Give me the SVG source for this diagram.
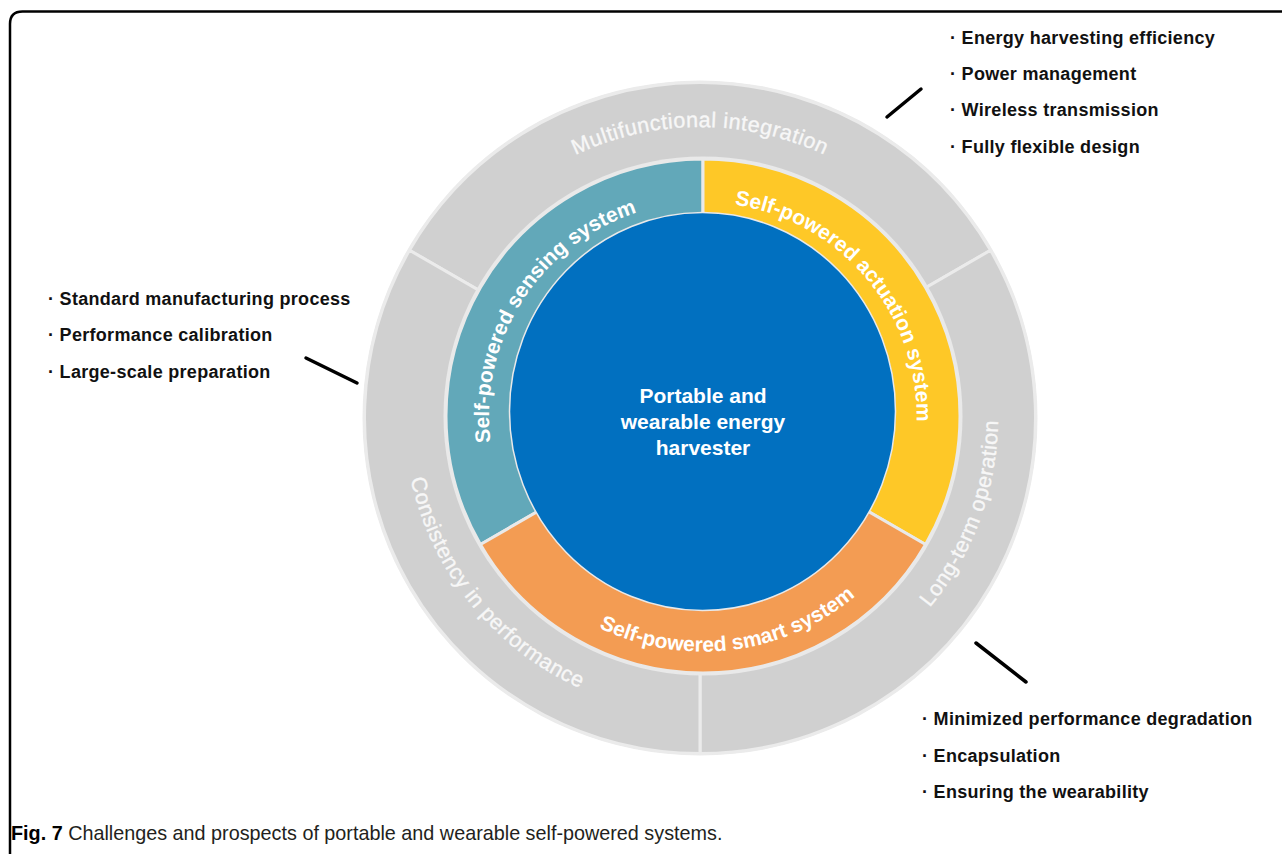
<svg xmlns="http://www.w3.org/2000/svg" width="1282" height="854" viewBox="0 0 1282 854">
<style>
.outerseg{fill:#d0d0d0;stroke:#ebebeb;stroke-width:3;stroke-linejoin:round}
.midseg{stroke:#e9e9e9;stroke-width:3;stroke-linejoin:round}
.ringlbl{font-family:"Liberation Sans",Arial,sans-serif;font-size:21.5px;letter-spacing:0.5px;fill:#f7f7f7;stroke:#f7f7f7;stroke-width:0.35px}
.midlbl{font-family:"Liberation Sans",Arial,sans-serif;font-size:21px;font-weight:bold;fill:#ffffff}
.center{font-family:"Liberation Sans",Arial,sans-serif;font-size:21px;font-weight:bold;fill:#ffffff;text-anchor:middle}
.item{font-family:"Liberation Sans",Arial,sans-serif;font-size:18px;font-weight:bold;letter-spacing:0.3px;fill:#111111}
.conn{stroke:#000000;stroke-width:3.5;stroke-linecap:round;fill:none}
.cap{font-family:"Liberation Sans",Arial,sans-serif;font-size:19.8px;fill:#231f20}
</style>
<defs>
<path id="pTop" d="M 409 418 A 291 291 0 0 1 991 418"/>
<path id="pRight" d="M 598.08 698.03 A 298 298 0 0 0 801.92 137.97"/>
<path id="pLeft" d="M 512.47 186.42 A 298 298 0 0 0 887.53 649.58"/>
<path id="pSense" d="M 588.02 596.49 A 214 214 0 0 1 817.98 235.51"/>
<path id="pAct" d="M 565.44 252.07 A 214 214 0 0 1 840.56 579.93"/>
<path id="pSmart" d="M 467.77 444.88 A 237 237 0 0 0 938.23 387.12"/>
</defs>
<rect x="0" y="0" width="1282" height="854" fill="#ffffff"/>
<path d="M 10 854 V 24 Q 10 11.5 22.5 11.5 H 1282" fill="none" stroke="#000000" stroke-width="2.5"/>

<g id="outer-ring">
<circle cx="700" cy="418" r="337.5" fill="#ebebeb"/>
<g id="multifunctional-integration">
<path class="outerseg" d="M 700 418 L 409.45 250.25 A 335.5 335.5 0 0 1 990.55 250.25 Z"/>
<text class="ringlbl"><textPath href="#pTop" startOffset="50%" text-anchor="middle">Multifunctional integration</textPath></text>
</g>
<g id="long-term-operation">
<path class="outerseg" d="M 700 418 L 990.55 250.25 A 335.5 335.5 0 0 1 700 753.5 Z"/>
<text class="ringlbl"><textPath href="#pRight" startOffset="50%" text-anchor="middle">Long-term operation</textPath></text>
</g>
<g id="consistency-in-performance">
<path class="outerseg" d="M 700 418 L 700 753.5 A 335.5 335.5 0 0 1 409.45 250.25 Z"/>
<text class="ringlbl"><textPath href="#pLeft" startOffset="50%" text-anchor="middle">Consistency in performance</textPath></text>
</g>
</g>

<g id="middle-ring">
<circle cx="703" cy="416" r="259.5" fill="#e9e9e9"/>
<g id="sensing">
<path class="midseg" fill="#62a8b9" d="M 703 416 L 480.43 544.5 A 257 257 0 0 1 703 159 Z"/>
</g>
<g id="actuation">
<path class="midseg" fill="#fec827" d="M 703 416 L 703 159 A 257 257 0 0 1 925.57 544.5 Z"/>
</g>
<g id="smart">
<path class="midseg" fill="#f39c53" d="M 703 416 L 925.57 544.5 A 257 257 0 0 1 480.43 544.5 Z"/>
</g>
</g>

<g id="core">
<ellipse cx="702.5" cy="411.5" rx="193" ry="199" fill="#0170c0" stroke="#e9e9e9" stroke-width="1.5"/>
<text class="center" x="703" y="403">Portable and</text>
<text class="center" x="703" y="429">wearable energy</text>
<text class="center" x="703" y="455">harvester</text>
</g>

<g id="middle-labels">
<text class="midlbl"><textPath href="#pSense" startOffset="50%" text-anchor="middle">Self-powered sensing system</textPath></text>
<text class="midlbl"><textPath href="#pAct" startOffset="50%" text-anchor="middle">Self-powered actuation system</textPath></text>
<text class="midlbl"><textPath href="#pSmart" startOffset="50%" text-anchor="middle">Self-powered smart system</textPath></text>
</g>

<g id="connectors">
<line class="conn" x1="887" y1="117" x2="921" y2="89"/>
<line class="conn" x1="306" y1="358" x2="357" y2="383"/>
<line class="conn" x1="976" y1="643" x2="1026" y2="682"/>
</g>

<g id="list-top">
<text class="item" x="950" y="44">· Energy harvesting efficiency</text>
<text class="item" x="950" y="80">· Power management</text>
<text class="item" x="950" y="116">· Wireless transmission</text>
<text class="item" x="950" y="153">· Fully flexible design</text>
</g>
<g id="list-left">
<text class="item" x="48" y="305">· Standard manufacturing process</text>
<text class="item" x="48" y="341">· Performance calibration</text>
<text class="item" x="48" y="378">· Large-scale preparation</text>
</g>
<g id="list-bottom">
<text class="item" x="922" y="725">· Minimized performance degradation</text>
<text class="item" x="922" y="762">· Encapsulation</text>
<text class="item" x="922" y="798">· Ensuring the wearability</text>
</g>

<text class="cap" x="11" y="840"><tspan font-weight="bold" fill="#000000">Fig. 7</tspan> Challenges and prospects of portable and wearable self-powered systems.</text>
</svg>
